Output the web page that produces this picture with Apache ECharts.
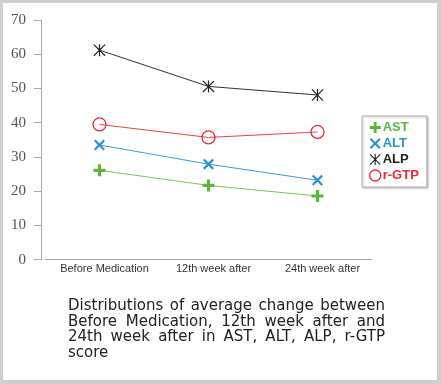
<!DOCTYPE html>
<html>
<head>
<meta charset="utf-8">
<script src="https://cdn.jsdelivr.net/npm/echarts@6/dist/echarts.min.js"></script>
<style>
html,body{margin:0;padding:0;background:#fff;}
#frame{position:absolute;left:0;top:0;width:441px;height:384px;box-sizing:border-box;border-style:solid;border-color:#cfcfcf;border-width:3px 4px 4px 3px;}
#chart{position:absolute;left:0;top:0;width:441px;height:384px;}
</style>
</head>
<body>
<div id="chart"></div>
<div id="frame"></div>
<script>
const categories = ['Before Medication', '12th week after', '24th week after'];
const seriesNames = ['AST', 'ALT', 'ALP', 'r-GTP'];
const astValues = [26.1, 21.7, 18.6];
const altValues = [33.5, 27.9, 23.2];
const alpValues = [61.2, 50.6, 48.1];
const gtpValues = [39.5, 35.7, 37.3];
const yTicks = [0, 10, 20, 30, 40, 50, 60, 70];
const captionLines = [
  'Distributions of average change between',
  'Before Medication, 12th week after and',
  '24th week after in AST, ALT, ALP, r-GTP',
  'score'
];

const PLUS = 'path://M37,0H63V37H100V63H63V100H37V63H0V37H37Z';
const CROSS = 'path://M14,0L50,36L86,0L100,14L64,50L100,86L86,100L50,64L14,100L0,86L36,50L0,14Z';
const STAR = 'path://M45,0H55V100H45Z M7,0L50,43L93,0L100,7L57,50L100,93L93,100L50,57L7,100L0,93L43,50L0,7Z';

const colors = {
  AST: '#5db53a', ALT: '#2a8fd8', ALP: '#222222', GTP: '#e8283a'
};

const chart = echarts.init(document.getElementById('chart'), null, {renderer: 'canvas'});

// caption with justified lines
const capFont = '15px "DejaVu Sans"';
const ctx = document.createElement('canvas').getContext('2d');
ctx.font = capFont;
const capLeft = 68, capRight = 385, capTop = 306, capLH = 15.8;
const captionGraphics = [];
captionLines.forEach((line, i) => {
  const y = capTop + i * capLH;
  const words = line.split(' ');
  if (i === captionLines.length - 1 || words.length < 2) {
    captionGraphics.push({type: 'text', x: capLeft, y: y, style: {text: line, font: capFont, fill: '#222', textVerticalAlign: 'middle'}});
    return;
  }
  const widths = words.map(w => ctx.measureText(w).width);
  const total = widths.reduce((a, b) => a + b, 0);
  const gap = (capRight - capLeft - total) / (words.length - 1);
  let x = capLeft;
  words.forEach((w, j) => {
    captionGraphics.push({type: 'text', x: x, y: y, style: {text: w, font: capFont, fill: '#222', textVerticalAlign: 'middle'}});
    x += widths[j] + gap;
  });
});

function mkSeries(name, data, color, symbol, size, itemStyle, lineColor) {
  return {
    name: name, type: 'line', data: data,
    symbol: symbol, symbolSize: size,
    lineStyle: {color: lineColor || color, width: 1},
    itemStyle: itemStyle || {color: color},
    emphasis: {disabled: true},
    z: 3
  };
}

chart.setOption({
  animation: false,
  backgroundColor: '#fff',
  grid: {left: 45, right: 69, top: 20, bottom: 124.3, containLabel: false},
  xAxis: {
    type: 'category', data: categories, boundaryGap: true,
    axisLine: {lineStyle: {color: '#aaaaaa', width: 1}},
    axisTick: {show: false},
    axisLabel: {color: '#333', fontFamily: 'Liberation Sans', fontSize: 11, margin: 4, interval: 0, hideOverlap: false, padding: [0, 0, 0, 10]}
  },
  yAxis: {
    type: 'value', min: yTicks[0], max: yTicks[yTicks.length - 1], interval: 10, offset: 4,
    axisLine: {show: true, lineStyle: {color: '#aaaaaa', width: 1}},
    axisTick: {show: true, length: 7, lineStyle: {color: '#aaaaaa'}},
    splitLine: {show: false},
    axisLabel: {color: '#555', fontFamily: 'Liberation Serif', fontSize: 15, margin: 15}
  },
  legend: {
    orient: 'vertical', left: 362, top: 116,
    padding: [5, 8, 5, 7],
    itemWidth: 11, itemHeight: 11, itemGap: 3,
    backgroundColor: '#fff', borderColor: '#b5b5b5', borderWidth: 1,
    shadowColor: 'rgba(0,0,0,0.25)', shadowBlur: 2, shadowOffsetX: 1, shadowOffsetY: 1,
    selectedMode: false,
    textStyle: {fontFamily: 'Liberation Sans', fontWeight: 'bold', fontSize: 13, lineHeight: 13, padding: [0, 0, 0, -3]},
    data: [
      {name: 'AST', icon: PLUS, itemStyle: {color: colors.AST}, textStyle: {color: colors.AST}},
      {name: 'ALT', icon: CROSS, itemStyle: {color: colors.ALT}, textStyle: {color: colors.ALT}},
      {name: 'ALP', icon: STAR, itemStyle: {color: colors.ALP}, textStyle: {color: colors.ALP}},
      {name: 'r-GTP', icon: 'circle', itemStyle: {color: 'rgba(0,0,0,0)', borderColor: colors.GTP, borderWidth: 1.4}, textStyle: {color: colors.GTP}}
    ]
  },
  series: [
    mkSeries('AST', astValues, colors.AST, PLUS, 12, {color: colors.AST}, '#7cc65a'),
    mkSeries('ALT', altValues, colors.ALT, CROSS, 11, {color: colors.ALT}, '#3a9ae0'),
    mkSeries('ALP', alpValues, colors.ALP, STAR, 12, {color: colors.ALP}, '#333'),
    mkSeries('r-GTP', gtpValues, colors.GTP, 'circle', 13, {color: 'rgba(0,0,0,0)', borderColor: colors.GTP, borderWidth: 1.3}, '#ec4050')
  ],
  graphic: captionGraphics
});
</script>
</body>
</html>
